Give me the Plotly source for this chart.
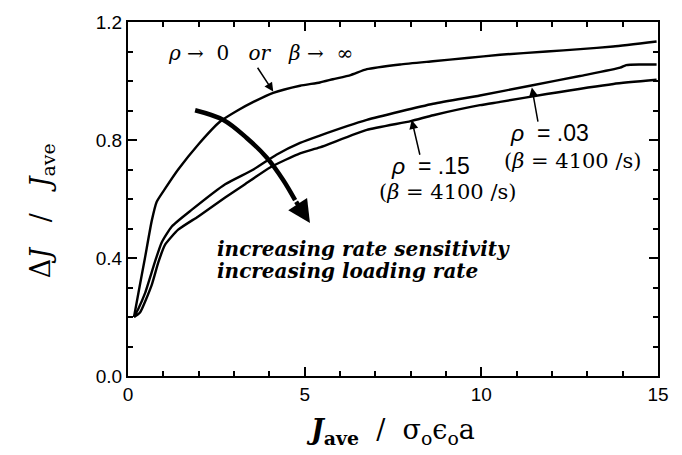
import plotly.graph_objects as go

# --- data ---
x_rho0 = [0.17, 0.3, 0.48, 0.67, 0.81, 1.05, 1.42, 1.99, 2.6, 3.1, 3.55, 4.11, 4.87, 5.43, 5.8, 6.3, 6.76, 7.7, 8.63, 9.59, 10.53, 11.85, 12.8, 13.73, 14.96]
y_rho0 = [0.20, 0.285, 0.40, 0.525, 0.59, 0.635, 0.70, 0.785, 0.862, 0.90, 0.929, 0.960, 0.984, 0.995, 1.006, 1.02, 1.04, 1.056, 1.067, 1.078, 1.089, 1.10, 1.108, 1.117, 1.134]

x_rho03 = [0.17, 0.3, 0.48, 0.76, 0.95, 1.24, 1.8, 2.75, 3.55, 4.2, 4.87, 5.43, 6.76, 8.64, 9.96, 11.38, 12.79, 13.93, 14.1, 14.5, 14.96]
y_rho03 = [0.20, 0.23, 0.28, 0.386, 0.452, 0.507, 0.563, 0.65, 0.70, 0.75, 0.79, 0.815, 0.868, 0.923, 0.951, 0.984, 1.017, 1.045, 1.054, 1.056, 1.056]

x_rho15 = [0.17, 0.34, 0.67, 0.86, 1.05, 1.42, 1.99, 2.75, 3.26, 4.02, 4.87, 5.43, 6.76, 8.0, 8.64, 9.96, 10.53, 11.85, 13.74, 14.96]
y_rho15 = [0.20, 0.215, 0.308, 0.386, 0.445, 0.496, 0.541, 0.605, 0.646, 0.707, 0.755, 0.775, 0.834, 0.864, 0.884, 0.918, 0.929, 0.956, 0.99, 1.004]

# curved "increasing" arrow path
arc_x = [1.90, 2.70, 3.36, 3.93, 4.40, 4.73, 5.15]
arc_y = [0.901, 0.868, 0.807, 0.740, 0.663, 0.596, 0.519]

x_ticks = [0, 5, 10, 15]
y_ticks = [0.0, 0.4, 0.8, 1.2]
y_tick_labels = ["0.0", "0.4", "0.8", "1.2"]

fig = go.Figure()
for xs, ys in [(x_rho0, y_rho0), (x_rho03, y_rho03), (x_rho15, y_rho15)]:
    fig.add_trace(go.Scatter(x=xs, y=ys, mode="lines",
                             line=dict(color="black", width=2.4, shape="spline", smoothing=0.5),
                             showlegend=False, hoverinfo="skip"))

fig.add_trace(go.Scatter(
    x=arc_x[:-1], y=arc_y[:-1], mode="lines",
    line=dict(color="black", width=4.5, shape="spline"),
    showlegend=False, hoverinfo="skip"))
fig.add_annotation(x=arc_x[-1], y=arc_y[-1], ax=arc_x[-2], ay=arc_y[-2],
                   xref="x", yref="y", axref="x", ayref="y", text="", showarrow=True,
                   arrowhead=2, arrowwidth=4.5, arrowsize=1.0, arrowcolor="black")

serif = "DejaVu Serif"
sans = "Liberation Sans"
sp = "\u00a0"

anns = [
    dict(x=3.76, y=1.094,
         text=f"<i>ρ</i>{sp}→{sp}{sp}0{sp}{sp}{sp}<i>or</i>{sp}{sp}{sp}<i>β</i>{sp}→{sp}{sp}∞",
         font=dict(family=serif, size=20)),
    dict(x=2.46, y=0.43, text="<b><i>increasing rate sensitivity</i></b>", xanchor="left",
         font=dict(family=serif, size=20)),
    dict(x=2.46, y=0.355, text="<b><i>increasing loading rate</i></b>", xanchor="left",
         font=dict(family=serif, size=20)),
    dict(x=8.55, y=0.711, text=f"<i>ρ</i>{sp}{sp}={sp}.15", font=dict(family=sans, size=23)),
    dict(x=9.03, y=0.625, text=f"(<i>β</i>{sp}={sp}4100{sp}/s)", font=dict(family=serif, size=21)),
    dict(x=11.94, y=0.824, text=f"<i>ρ</i>{sp}{sp}={sp}.03", font=dict(family=sans, size=23)),
    dict(x=12.58, y=0.729, text=f"(<i>β</i>{sp}={sp}4100{sp}/s)", font=dict(family=serif, size=21)),
]
for a in anns:
    a.update(xref="x", yref="y", showarrow=False)
    a["font"]["color"] = "black"
    fig.add_annotation(**a)

# axis titles as annotations for precise placement
fig.add_annotation(x=(390 - 128) / (658 - 128), y=-(433 - 376) / (376 - 15), xref="paper", yref="paper",
                   xanchor="center", yanchor="middle",
                   text=f"<b><i>J</i><sub>ave</sub></b>{sp}{sp}/{sp}{sp}σ<sub>o</sub>ϵ<sub>o</sub>a",
                   showarrow=False, font=dict(family=serif, size=27, color="black"))
fig.add_annotation(x=-(128 - 42) / (658 - 128), y=(376 - 208) / (376 - 15), xref="paper", yref="paper",
                   xanchor="center", yanchor="middle",
                   text=f"Δ<i>J</i>{sp}{sp}{sp}/{sp}{sp}{sp}<i>J</i><sub>ave</sub>", textangle=-90,
                   showarrow=False, font=dict(family=serif, size=27, color="black"))

arrows = [
    ((3.64, 1.05), (4.11, 0.964)),
    ((8.27, 0.745), (8.03, 0.868)),
    ((11.61, 0.857), (11.43, 0.978)),
]
for (tx, ty), (hx, hy) in arrows:
    fig.add_annotation(x=hx, y=hy, ax=tx, ay=ty, xref="x", yref="y", axref="x", ayref="y",
                       text="", showarrow=True, arrowhead=2, arrowsize=1.2, arrowwidth=1.5,
                       arrowcolor="black")

axis_common = dict(showgrid=False, zeroline=False, showline=True, linecolor="black", linewidth=2,
                   mirror="allticks", ticks="inside", tickcolor="black", tickwidth=1.5, ticklen=9,
                   tickfont=dict(family=sans, size=19, color="black"))

fig.update_xaxes(range=[0, 15], tickvals=x_ticks, ticktext=[str(v) for v in x_ticks],
                 minor=dict(dtick=1, ticks="inside", ticklen=5, tickcolor="black", tickwidth=1.5),
                 **axis_common)
fig.update_yaxes(range=[0, 1.2], tickvals=y_ticks, ticktext=y_tick_labels,
                 minor=dict(dtick=0.1, ticks="inside", ticklen=5, tickcolor="black", tickwidth=1.5),
                 **axis_common)

fig.update_layout(width=682, height=455, margin=dict(l=128, r=24, t=15, b=79),
                  plot_bgcolor="white", paper_bgcolor="white", showlegend=False)

fig.write_html("out.html")
